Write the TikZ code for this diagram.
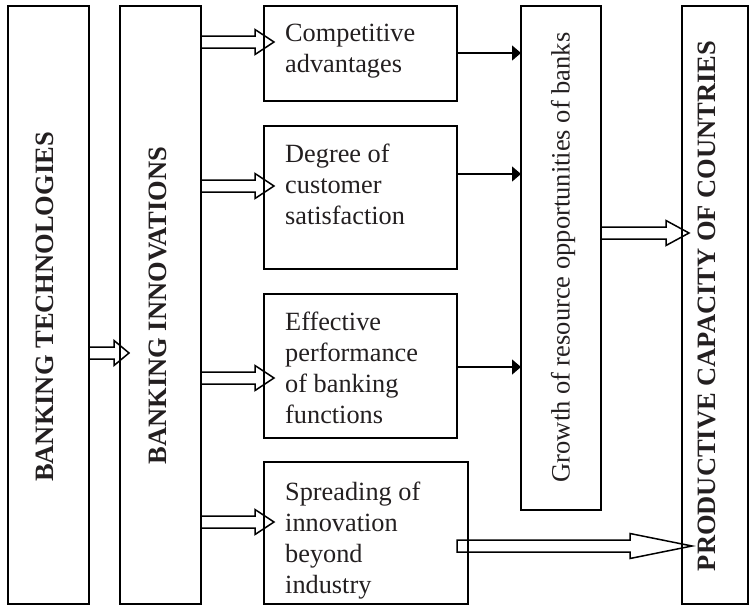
\documentclass[tikz,border=0pt]{standalone}
\usepackage{fontspec}
\setmainfont{Liberation Serif}
\usetikzlibrary{arrows.meta,calc}
\definecolor{ink}{HTML}{231F20}
\begin{document}
\begin{tikzpicture}[x=1pt,y=-1pt,
  panel/.style={draw=black,line width=1.8pt,inner sep=0pt,outer sep=0pt},
  body/.style={font=\fontsize{26.3}{31}\selectfont,align=left,inner sep=0pt,anchor=north west,text=ink},
  vbold/.style={font=\fontsize{26.5}{30}\selectfont\bfseries,rotate=90,inner sep=0pt,text=ink},
  vtext/.style={font=\fontsize{26.5}{30}\selectfont,rotate=90,inner sep=0pt,text=ink},
  link/.style={line width=1.4pt,-{Triangle[length=9pt,width=15pt]}},
  fat/.style={draw=black,line width=1.5pt,line join=miter,
    to path={let \p1=(\tikztostart),\p2=(\tikztotarget) in
      (\x1,\y1+6pt) -- (\x2-#1,\y1+6pt) -- (\x2-#1,\y1+12.5pt) -- (\x2,\y1)
      -- (\x2-#1,\y1-12.5pt) -- (\x2-#1,\y1-6pt) -- (\x1,\y1-6pt) -- cycle}},
  fat/.default=19pt]
\useasboundingbox (0,0) rectangle (755,606);

% outer columns
\node[panel,minimum width=81pt,minimum height=598pt] (A) at (48.5,305) {};
\node[panel,minimum width=81pt,minimum height=598pt] (B) at (160.5,305) {};
\node[panel,minimum width=80pt,minimum height=504pt] (G) at (561,258) {};
\node[panel,minimum width=66pt,minimum height=598pt] (P) at (715,305) {};

% middle boxes
\node[panel,minimum width=193pt,minimum height=95pt]  (C1) at (360.5,53.5) {};
\node[panel,minimum width=193pt,minimum height=143pt] (C2) at (360.5,197.5) {};
\node[panel,minimum width=193pt,minimum height=144pt] (C3) at (360.5,366) {};
\node[panel,minimum width=204pt,minimum height=142pt] (C4) at (366,533) {};

% column captions
\node[vbold] (At) at (45,307) {BANKING TECHNOLOGIES};
\node[vbold] (Bt) at (157.5,305.5) {BANKING INNOVATIONS};
\node[vtext] (Gt) at (563,257.5) {Growth of resource opportunities of banks};
\node[vbold] (Pt) at (707,306) {PRODUCTIVE CAPACITY OF COUNTRIES};

% box texts
\node[body] (C1t) at (285,24)  {Competitive\\advantages};
\node[body] (C2t) at (285,144) {Degree of\\customer\\satisfaction};
\node[body] (C3t) at (285,312) {Effective\\performance\\of banking\\functions};
\node[body] (C4t) at (285,482) {Spreading of\\innovation\\beyond\\industry};

% arrow end points
\coordinate (ab) at (129,353);
\coordinate (b1) at (274,42);
\coordinate (b2) at (274,186);
\coordinate (b3) at (274,378);
\coordinate (b4) at (274,522);
\coordinate (gp) at (689,233);
\coordinate (c4out) at (457,546);
\coordinate (c4p) at (692,546);
\coordinate (l1) at (0,53);
\coordinate (l2) at (0,174);
\coordinate (l3) at (0,367);

% block arrows
\draw[fat=15pt] (A.east |- ab) to (ab);
\draw[fat] (B.east |- b1) to (b1);
\draw[fat] (B.east |- b2) to (b2);
\draw[fat] (B.east |- b3) to (b3);
\draw[fat] (B.east |- b4) to (b4);
\draw[fat=23pt] (G.east |- gp) to (gp);
\draw[fat=62pt] (c4out) to (c4p);

% thin arrows into the growth column
\draw[link] (C1.east |- l1) -- (G.west |- l1);
\draw[link] (C2.east |- l2) -- (G.west |- l2);
\draw[link] (C3.east |- l3) -- (G.west |- l3);
\end{tikzpicture}
\end{document}
